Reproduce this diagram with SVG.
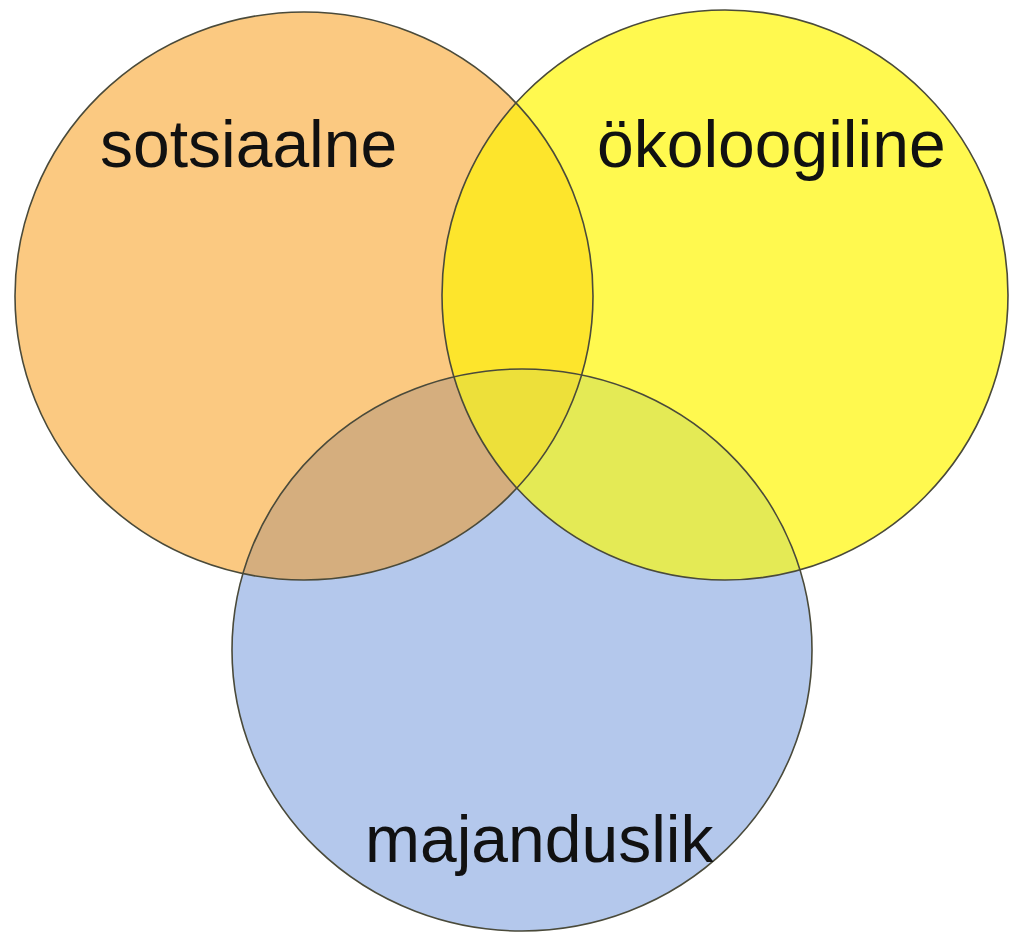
<svg xmlns="http://www.w3.org/2000/svg" width="1018" height="942" viewBox="0 0 1018 942">
<style>
.lbl{font-family:"Liberation Sans",Arial,sans-serif;font-size:66px;fill:#111;}
.edge{fill:none;stroke:#4a4a3a;stroke-width:1.6;}
</style>
<defs>
<clipPath id="clipO"><ellipse cx="304" cy="296" rx="289" ry="284"/></clipPath>
<clipPath id="clipY"><ellipse cx="725" cy="295" rx="283" ry="285"/></clipPath>
</defs>
<rect width="1018" height="942" fill="#ffffff"/>
<g id="sotsiaalne">
<ellipse cx="304" cy="296" rx="289" ry="284" fill="#FBC981"/>
</g>
<g id="okoloogiline">
<ellipse cx="725" cy="295" rx="283" ry="285" fill="#FFF94F"/>
</g>
<g id="majanduslik">
<ellipse cx="522" cy="650" rx="290" ry="281" fill="#B4C8EC"/>
</g>
<g id="overlaps">
<g clip-path="url(#clipO)"><ellipse cx="725" cy="295" rx="283" ry="285" fill="#FDE52C"/></g>
<g clip-path="url(#clipO)"><ellipse cx="522" cy="650" rx="290" ry="281" fill="#D5AE7E"/></g>
<g clip-path="url(#clipY)"><ellipse cx="522" cy="650" rx="290" ry="281" fill="#E4EA55"/></g>
<g clip-path="url(#clipY)"><g clip-path="url(#clipO)"><ellipse cx="522" cy="650" rx="290" ry="281" fill="#EDE03A"/></g></g>
</g>
<g id="outlines">
<ellipse class="edge" cx="304" cy="296" rx="289" ry="284"/>
<ellipse class="edge" cx="725" cy="295" rx="283" ry="285"/>
<ellipse class="edge" cx="522" cy="650" rx="290" ry="281"/>
</g>
<g id="labels">
<text class="lbl" x="100" y="167">sotsiaalne</text>
<text class="lbl" x="597" y="167">ökoloogiline</text>
<text class="lbl" x="365" y="862">majanduslik</text>
</g>
</svg>
